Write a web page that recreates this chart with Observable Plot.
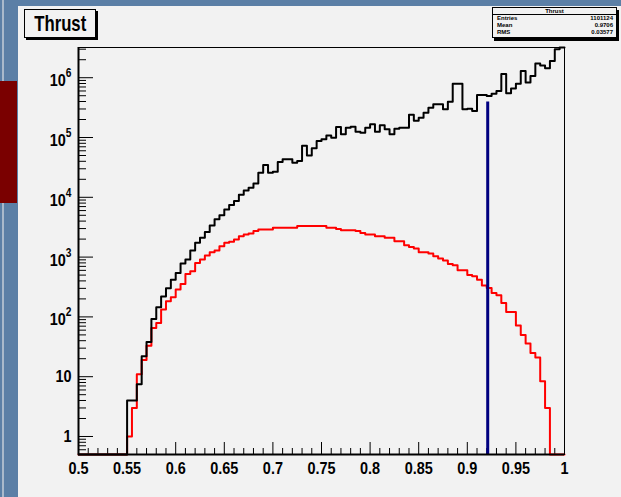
<!DOCTYPE html>
<html>
<head>
<meta charset="utf-8">
<script src="https://cdn.jsdelivr.net/npm/d3@7"></script>
<script src="https://cdn.jsdelivr.net/npm/@observablehq/plot@0.6"></script>
<style>
  html, body { margin: 0; padding: 0; }
  body { width: 621px; height: 497px; position: relative; overflow: hidden; background: #5b7fa6; font-family: "Liberation Sans", Arial, sans-serif; }
  #stripe { position: absolute; left: 2px; top: 0; width: 2px; height: 497px; background: #a9b9cb; }
  #redbar { position: absolute; left: 0; top: 81px; width: 17px; height: 122px; background: #7a0000; }
  #pad { position: absolute; left: 18px; top: 6px; right: 0; bottom: 0; background: #f2f2f2; }
  #chart { position: absolute; left: 0; top: 0; }
  #title { position: absolute; left: 24px; top: 9px; width: 70px; height: 27px; border: 1px solid #000; box-shadow: 2px 2px 0 #000; background: #f2f2f2; text-align: center; font-weight: bold; font-size: 22px; line-height: 27px; }
  #title span { display: inline-block; transform: scaleX(0.76); }
  #stats { position: absolute; left: 492px; top: 7px; width: 123px; height: 29px; border: 1px solid #000; box-shadow: 2px 3px 0 #000; background: #f2f2f2; font-weight: bold; font-size: 6px; }
  #stats .head { text-align: center; height: 6px; line-height: 6px; border-bottom: 1px solid #000; }
  #stats .row { display: flex; justify-content: space-between; padding: 0 3px 0 4px; height: 7px; line-height: 7px; }
  #chart svg g[aria-label="x-axis tick label"], #chart svg g[aria-label="y-axis tick label"] { font-weight: bold; }
</style>
</head>
<body>
<div id="stripe"></div>
<div id="redbar"></div>
<div id="pad"></div>
<div id="chart"></div>
<div id="title"><span id="titleText"></span></div>
<div id="stats"></div>
<script>
// ---- data ----
const histTitle = "Thrust";
// lower edges of the 100 bins (0.5 .. 1, width 0.005)
const binLow = d3.range(100).map(i => +(0.5 + 0.005 * i).toFixed(3));
const binUpper = 1;
// black histogram (all events)
const thrustAll = [
  0, 0, 0, 0, 0, 0, 0, 0, 0, 0,
  4, 4, 7.5, 22, 38, 92, 145, 219, 302, 420,
  543, 780, 910, 1290, 1730, 2100, 2640, 3380, 4310, 5000,
  6280, 7400, 8680, 11000, 13000, 14400, 17000, 25700, 34600, 25700,
  26800, 38900, 43100, 43100, 37900, 40500, 73000, 50000, 66000, 87600,
  93600, 108000, 99000, 150000, 113000, 146000, 152000, 125000, 120000, 146000,
  166000, 125000, 161000, 138000, 113000, 140000, 145000, 146000, 240000, 190000,
  215000, 260000, 316000, 359000, 359000, 296000, 398000, 795000, 795000, 296000,
  303000, 277000, 516000, 516000, 495000, 540000, 600000, 1150000, 550000, 660000,
  795000, 1290000, 830000, 1070000, 1730000, 1600000, 1440000, 1900000, 3000000, 3200000
];
// red histogram (selected events)
const thrustSel = [
  0, 0, 0, 0, 0, 0, 0, 0, 0, 0,
  1, 3, 11, 19, 33, 65, 79, 133, 183, 213,
  286, 356, 524, 580, 800, 910, 1060, 1210, 1290, 1520,
  1730, 1800, 1970, 2240, 2390, 2490, 2720, 2900, 2900, 2900,
  3090, 3090, 3090, 3090, 3090, 3300, 3300, 3300, 3300, 3300,
  3300, 3090, 3090, 2960, 2820, 2820, 2820, 2720, 2540, 2390,
  2390, 2240, 2240, 2100, 2100, 1850, 1850, 1585, 1480, 1390,
  1210, 1210, 1150, 1035, 950, 875, 770, 730, 605, 605,
  500, 480, 420, 335, 305, 252, 230, 171, 121, 121,
  72, 50, 36, 25, 21, 8.4, 3, 0, 0, 0
];
const cutValue = 0.921;
const xTickValues = [0.5, 0.55, 0.6, 0.65, 0.7, 0.75, 0.8, 0.85, 0.9, 0.95, 1];
const xTickLabels = ["0.5", "0.55", "0.6", "0.65", "0.7", "0.75", "0.8", "0.85", "0.9", "0.95", "1"];
const yTickValues = [1, 10, 100, 1e3, 1e4, 1e5, 1e6];
const yTickLabels = ["1", "10", "10^2", "10^3", "10^4", "10^5", "10^6"];
const statsLabels = ["Entries", "Mean", "RMS"];
const statsValues = ["1101124", "0.9706", "0.03577"];

// ---- layout ----
const W = 621, H = 497;
const mL = 78, mR = 57, mT = 47, mB = 43;
const frameW = W - mL - mR, frameH = H - mT - mB;
const yFloor = 0.5, yTop = 3.2e6;

const toSteps = counts => binLow.map((x, i) => ({x, n: Math.max(counts[i], yFloor)}))
  .concat([{x: binUpper, n: Math.max(counts[counts.length - 1], yFloor)}]);
const allSteps = toSteps(thrustAll);
const selSteps = toSteps(thrustSel);

const xMinor = d3.range(50, 101).map(k => k / 100).filter(v => !xTickValues.some(t => Math.abs(t - v) < 1e-9));
const yMinor = [];
for (let e = -1; e <= 6; e++) for (let m = 2; m <= 9; m++) {
  const v = m * Math.pow(10, e);
  if (v >= yFloor && v <= yTop) yMinor.push(v);
}
const cutBin = Math.floor((cutValue - binLow[0]) / (binLow[1] - binLow[0]));
const cutTop = thrustAll[cutBin];

const chart = Plot.plot({
  width: W, height: H,
  marginLeft: mL, marginRight: mR, marginTop: mT, marginBottom: mB,
  style: {background: "transparent", fontFamily: "Liberation Sans, Arial, sans-serif", color: "black"},
  x: {domain: [0.5, 1], label: null},
  y: {type: "log", domain: [yFloor, yTop], clamp: true, label: null},
  marks: [
    Plot.tickY(yMinor, {y: d => d, insetRight: frameW - 8, stroke: "black"}),
    Plot.tickY(yTickValues, {y: d => d, insetRight: frameW - 15, stroke: "black"}),
    Plot.tickX(xMinor, {x: d => d, insetTop: frameH - 6, stroke: "black"}),
    Plot.tickX(xTickValues, {x: d => d, insetTop: frameH - 12, stroke: "black"}),
    Plot.line(selSteps, {x: "x", y: "n", curve: "step-after", stroke: "#ff0000", strokeWidth: 2}),
    Plot.line(allSteps, {x: "x", y: "n", curve: "step-after", stroke: "black", strokeWidth: 2}),
    Plot.ruleX([cutValue], {x: d => d, y1: yFloor, y2: cutTop, stroke: "#000080", strokeWidth: 3, insetBottom: -6}),
    Plot.frame({stroke: "black", strokeWidth: 1}),
    Plot.ruleX([0.5], {stroke: "black", strokeWidth: 2}),
    Plot.ruleY([yFloor], {stroke: "black", strokeWidth: 2}),
    Plot.axisX(xTickValues, {tickSize: 0, tickPadding: 7, fontSize: 17, fill: "black",
      tickFormat: d => xTickLabels[xTickValues.indexOf(d)]}),
    Plot.axisY(yTickValues, {tickSize: 0, tickPadding: 7, fontSize: 17, fill: "black",
      tickFormat: d => yTickLabels[yTickValues.indexOf(d)]})
  ]
});
document.getElementById("chart").appendChild(chart);

// narrow the tick labels (ROOT's condensed look) and build superscripts
const ns = "http://www.w3.org/2000/svg";
chart.querySelectorAll('g[aria-label="x-axis tick label"] text, g[aria-label="y-axis tick label"] text').forEach(t => {
  const tr = t.getAttribute("transform");
  if (tr) t.setAttribute("transform", tr + " scale(0.85,1)");
  else {
    const x = t.getAttribute("x") || 0, y = t.getAttribute("y") || 0;
    t.setAttribute("x", 0); t.setAttribute("y", 0);
    t.setAttribute("transform", `translate(${x},${y}) scale(0.85,1)`);
  }
  const s = t.textContent;
  if (s.includes("^")) {
    const [b, e] = s.split("^");
    t.textContent = "";
    const t1 = document.createElementNS(ns, "tspan");
    t1.textContent = b; t1.setAttribute("dy", "3");
    const t2 = document.createElementNS(ns, "tspan");
    t2.textContent = e; t2.setAttribute("dy", "-9"); t2.setAttribute("font-size", "12");
    t.appendChild(t1); t.appendChild(t2);
  }
});

// title and statistics boxes
document.getElementById("titleText").textContent = histTitle;
const stats = document.getElementById("stats");
const head = document.createElement("div");
head.className = "head"; head.textContent = histTitle;
stats.appendChild(head);
statsLabels.forEach((l, i) => {
  const r = document.createElement("div");
  r.className = "row";
  const a = document.createElement("span"); a.textContent = l;
  const b = document.createElement("span"); b.textContent = statsValues[i];
  r.appendChild(a); r.appendChild(b);
  stats.appendChild(r);
});
</script>
</body>
</html>
